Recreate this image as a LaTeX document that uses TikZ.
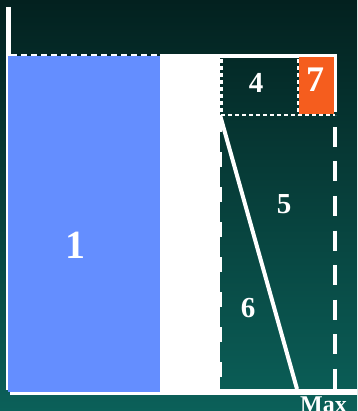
\documentclass[tikz,border=0pt]{standalone}
\usepackage{fontspec}
\setmainfont{Liberation Serif}
\definecolor{bgtop}{RGB}{3,33,31}
\definecolor{bgbot}{RGB}{11,96,89}
\definecolor{bluebox}{RGB}{100,142,255}
\definecolor{orangebox}{RGB}{245,93,30}
\tikzset{
  lbl/.style={text=white,font=\bfseries\fontsize{29}{29}\selectfont,inner sep=0pt},
  whitefill/.style={fill=white,draw=none},
  dotline/.style={draw=white,line width=2.5pt,dash pattern=on 4pt off 3pt},
  longdash/.style={draw=white,line width=4pt,dash pattern=on 20pt off 14.5pt}
}
\begin{document}
\begin{tikzpicture}[x=1pt,y=-1pt]
\useasboundingbox (0,0) rectangle (357,411);
\clip (0,0) rectangle (357,411);
\shade[top color=bgtop,bottom color=bgbot] (0,0) rectangle (357,411);
% white regions
\fill[white] (6,56) rectangle (220,390);
\fill[white] (10,389) rectangle (357,395);
\fill[white] (160,54) rectangle (337,58.5);
\fill[white] (334,54) rectangle (337,110);
% axis line
\fill[white] (6,7) rectangle (11,390);
% blue box 1
\fill[bluebox] (8,56) rectangle (160,392);
% dashed top edge over box 1
\draw[draw=white,line width=2pt,dash pattern=on 6pt off 4pt] (11,55) -- (160,55);
% box 7
\fill[orangebox] (299,57) rectangle (334,114);
% dotted borders of box 4 and 7
\draw[dotline] (221.5,59) -- (221.5,115);
\draw[dotline] (221,115) -- (335,115);
\draw[dotline] (298,59) -- (298,115);
\draw[dotline] (335.5,108) -- (335.5,115);
% dashed left edge of region 5/6
\draw[draw=white,line width=3pt,dash pattern=on 15pt off 20pt] (220,117) -- (220,389);
% right dashed line
\draw[longdash] (335,127) -- (335,389);
% diagonal
\coordinate (dA) at (220,115);
\coordinate (dB) at (297,389);
\draw[white,line width=4pt] (dA) -- (dB);
% labels
\node[lbl,font=\bfseries\fontsize{40}{40}\selectfont] (n1) at (75,245) {1};
\node[lbl] (n4) at (256,83) {4};
\node[lbl,font=\bfseries\fontsize{36}{36}\selectfont] (n7) at (315,80) {7};
\node[lbl] (n5) at (284,204) {5};
\node[lbl] (n6) at (248,308) {6};
\node[lbl,font=\bfseries\fontsize{24}{24}\selectfont,anchor=north west] (nmax) at (300,397) {Max};
\end{tikzpicture}
\end{document}
